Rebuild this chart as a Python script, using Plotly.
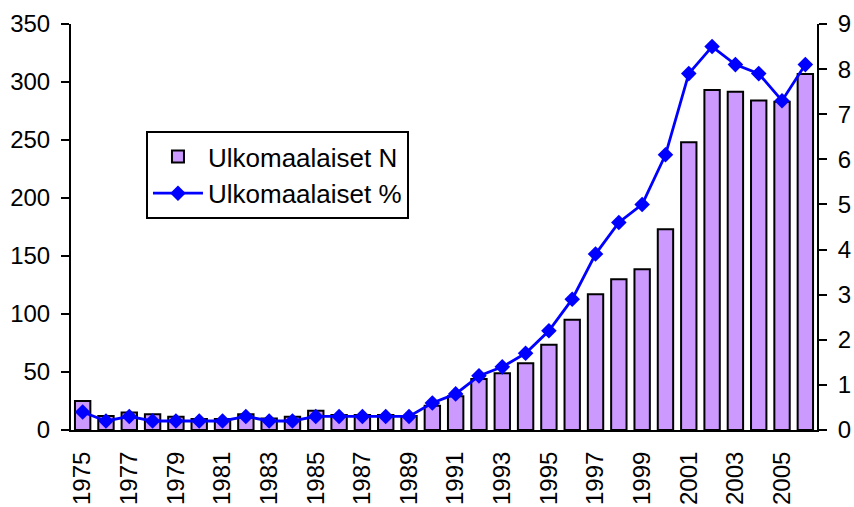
import plotly.graph_objects as go

years = list(range(1975, 2007))
counts = [25, 12, 15, 13.5, 11.5, 9.5, 9.5, 13.5, 10, 11.5, 16.5, 13, 13, 13, 12,
          21, 29, 44, 49, 57.5, 73.5, 95, 117, 130, 138.5, 173, 248, 293, 291.5, 284, 283, 307]
pct = [0.4, 0.2, 0.3, 0.2, 0.2, 0.2, 0.2, 0.3, 0.2, 0.2, 0.3, 0.3, 0.3, 0.3, 0.3,
       0.6, 0.8, 1.2, 1.4, 1.7, 2.2, 2.9, 3.9, 4.6, 5.0, 6.1, 7.9, 8.5, 8.1, 7.9, 7.3, 8.1]
tick_years = list(range(1975, 2007, 2))
left_ticks = list(range(0, 351, 50))
right_ticks = list(range(0, 10))

FONT = "Liberation Sans, Arial, sans-serif"

fig = go.Figure()
fig.add_trace(go.Bar(
    x=years, y=counts, name="Ulkomaalaiset N",
    marker=dict(color="#CC99FF", line=dict(color="black", width=2)),
    width=0.66, yaxis="y",
))
fig.add_trace(go.Scatter(
    x=years, y=pct, name="Ulkomaalaiset %", mode="lines+markers",
    line=dict(color="#0000FF", width=2.8),
    marker=dict(symbol="diamond", size=12, color="#0000FF"),
    yaxis="y2",
))

axis_common = dict(showgrid=False, zeroline=False, linecolor="black", linewidth=2,
                   tickcolor="black", tickwidth=2, automargin=False)

fig.update_layout(
    width=854, height=507,
    margin=dict(l=71, r=37, t=24, b=77, autoexpand=False),
    paper_bgcolor="white", plot_bgcolor="white",
    font=dict(family=FONT, color="black", size=24),
    showlegend=True,
    legend=dict(x=0.1005, y=0.7365, xanchor="left", yanchor="top",
                bordercolor="black", borderwidth=2, bgcolor="white",
                font=dict(size=26, family=FONT), itemwidth=50,
                tracegroupgap=0),
    bargap=0.3,
    xaxis=dict(range=[1974.5, 2006.5], tickmode="array", tickvals=tick_years,
               ticktext=[str(y) for y in tick_years], tickangle=-90,
               ticks="", showline=True, ticklabelstandoff=10,
               tickfont=dict(size=24), **axis_common),
    yaxis=dict(range=[0, 350], tickmode="array", tickvals=left_ticks,
               ticks="outside", ticklen=8, showline=True,
               tickfont=dict(size=24), ticklabelstandoff=6, **axis_common),
    yaxis2=dict(range=[0, 9], tickmode="array", tickvals=right_ticks,
                overlaying="y", side="right", anchor="x",
                ticks="outside", ticklen=8, showline=True,
                tickfont=dict(size=24), ticklabelstandoff=6, **axis_common),
    yaxis3=dict(range=[0, 350], tickmode="array", tickvals=left_ticks,
                overlaying="y", side="left", anchor="x", automargin=False,
                ticks="inside", ticklen=8, showline=False, showticklabels=False,
                showgrid=False, zeroline=False, tickcolor="black", tickwidth=2),
    yaxis4=dict(range=[0, 9], tickmode="array", tickvals=right_ticks,
                overlaying="y", side="right", anchor="x", automargin=False,
                ticks="inside", ticklen=8, showline=False, showticklabels=False,
                showgrid=False, zeroline=False, tickcolor="black", tickwidth=2),
)

fig.write_html("out.html", config={"displayModeBar": False},
               post_script="document.body.style.margin='0';document.body.style.overflow='hidden';")
